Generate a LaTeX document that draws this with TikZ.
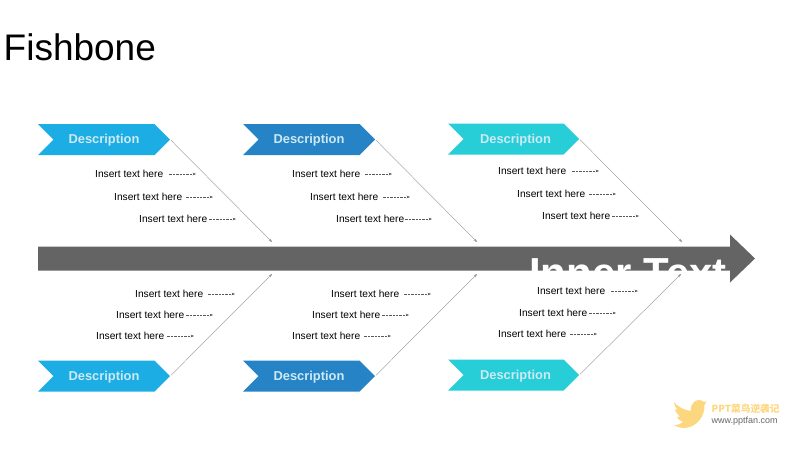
\documentclass[tikz,border=0pt]{standalone}
\usepackage{fontspec}
\setmainfont{Liberation Sans}
\newfontfamily\cjkfont{Noto Sans CJK SC}
\usetikzlibrary{shapes.symbols,arrows.meta}
\definecolor{chevA}{HTML}{1CADE4}
\definecolor{chevB}{HTML}{2683C6}
\definecolor{chevC}{HTML}{27CED7}
\definecolor{chevText}{HTML}{CDE9F4}
\definecolor{spineCol}{HTML}{646464}
\definecolor{logoCol}{HTML}{FDD77F}
\tikzset{
  chevron/.style={signal,signal to=east,signal from=west,signal pointer angle=90,
    minimum width=132pt,minimum height=31pt,inner sep=0pt,fill=#1,text=chevText,
    text height=9.3pt,text depth=1.3pt,
    font=\fontsize{12.9pt}{14pt}\selectfont\bfseries},
  label/.style={anchor=west,inner sep=0pt,text height=7.4pt,text depth=2pt,text=black,
    font=\fontsize{10.2pt}{12pt}\selectfont},
  twig/.style={draw=black!65,line width=.45pt,dash pattern=on 2.4pt off 1pt,-{Stealth[length=3.4pt,width=2.6pt]}},
  bone/.style={draw=black!45,line width=.35pt,-{Stealth[length=3.5pt,width=2.6pt]}}
}
\begin{document}
\begin{tikzpicture}[x=1pt,y=-1pt]
\useasboundingbox (0,0) rectangle (800,450);
\node[anchor=base west,inner sep=0pt,font=\fontsize{37pt}{40pt}\selectfont] (title) at (3.5,60.5) {Fishbone};
% spine
\fill[spineCol] (38,246.5) -- (730,246.5) -- (730,234.5) -- (755,258.5) -- (730,282.5) -- (730,270.5) -- (38,270.5) -- cycle;
\node[anchor=base west,inner sep=0pt,text=white,font=\fontsize{42pt}{44pt}\selectfont\bfseries] (inner) at (529,287) {Inner Text};
% heads
\node[chevron=chevA] (c1) at (104,139.5) {Description};
\node[chevron=chevB] (c2) at (309,139.5) {Description};
\node[chevron=chevC,minimum width=131pt] (c3) at (513.5,139) {\hspace*{4pt}Description};
\node[chevron=chevA] (c4) at (104,376) {Description};
\node[chevron=chevB] (c5) at (309,376) {Description};
\node[chevron=chevC,minimum width=131pt] (c6) at (513.5,375) {\hspace*{4pt}Description};
% bone ends on the spine
\coordinate (b1) at (272,242);
\coordinate (b2) at (477,242);
\coordinate (b3) at (682,242);
\coordinate (b4) at (272,274);
\coordinate (b5) at (477,274);
\coordinate (b6) at (681,274);
\foreach \i in {1,...,6}{\draw[bone,shorten <=1pt] (c\i.east) -- (b\i);}
% labels and their arrows: name / x / y / gap / arrow end
\foreach \n/\xa/\yy/\g/\xb in {
  a/95/175/6/196, b/114/198/4/213, c/139/220/2/236,
  d/292/175/5/392, e/310/198/5/410, f/336/220/1/432,
  g/498/172/6/599, h/517/195/4/616, i/542/217/2/639,
  j/135/295/5/235, k/116/316/2/213, l/96/337/3/194,
  m/331/295/5/431, n/312/316/2/409, o/292/337/4/391,
  p/537/292/6/638, q/519/314/2/616, r/498/335/4/597}{
  \node[label] (l\n) at (\xa,\yy) {Insert text here};
  \coordinate (e\n) at (\xb,\yy-1);
  \draw[twig,shorten <=\g pt] (l\n.east |- e\n) -- (e\n);
}
% logo
\fill[logoCol] (674,402) .. controls (678,407) and (684,410) .. (691,411) .. controls (690,404) and (695,400) .. (699,400)
  .. controls (701,400) and (703,401) .. (704,402) -- (706.5,401.5) -- (704.5,405) .. controls (705,416) and (697,427) .. (685,428)
  .. controls (681,428) and (677,427) .. (674,425) .. controls (678,425) and (681,424) .. (683,422)
  .. controls (680,421) and (678,419) .. (677,417) -- (680,416.5) .. controls (677,414) and (675,411) .. (675,409) -- (678,410)
  .. controls (675,407) and (674,405) .. (674,402) -- cycle;
\node[anchor=base west,inner sep=0pt,text=logoCol,font=\fontsize{9.7pt}{10pt}\selectfont\bfseries\cjkfont] (logoA) at (711.5,412.5) {PPT菜鸟逆袭记};
\node[anchor=base west,inner sep=0pt,text=black!60,font=\fontsize{9pt}{10pt}\selectfont] (logoB) at (711.5,423.5) {www.pptfan.com};
\end{tikzpicture}
\end{document}
